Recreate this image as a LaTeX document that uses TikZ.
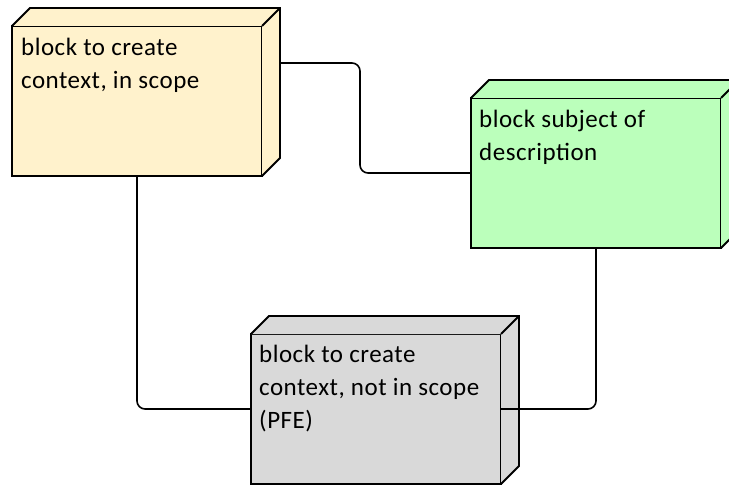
\documentclass[tikz,border=0pt]{standalone}
\usepackage{fontspec}
\setmainfont{Carlito}[LetterSpace=2]
\definecolor{creamfill}{HTML}{FFF2CC}
\definecolor{greenfill}{HTML}{BBFFBB}
\definecolor{grayfill}{HTML}{D9D9D9}
\begin{document}
\begin{tikzpicture}[x=1pt,y=-1pt,
  frontface/.style={draw, line width=1.9pt, rectangle, inner sep=0pt, outer sep=0pt,
    minimum width=250pt, minimum height=150pt, anchor=north west},
  sideface/.style={draw, line width=1.9pt, line join=miter},
  blocktext/.style={anchor=north west, inner sep=0pt, align=left,
    font=\fontsize{25}{33}\selectfont},
  conn/.style={draw, line width=1.6pt, rounded corners=8pt}]
\useasboundingbox (0,0) rectangle (729,487);
\clip (0,0) rectangle (729,487);

% block 1
\node[frontface, fill=creamfill] (b1) at (12,26) {};
\fill[creamfill] (b1.north west) -- ++(18,-18) -- ++(250,0) -- ++(0,150) -- (b1.south east) -- (b1.north east) -- cycle;
\draw[sideface] (b1.north west) -- ++(18,-18) -- ++(250,0) -- ++(0,150) -- (b1.south east);
\draw[sideface] (b1.north east) -- ++(18,-18);
\node[blocktext] (t1) at ([shift={(9,12)}]b1.north west) {block to create\\context, in scope};

% block 2
\node[frontface, fill=greenfill] (b2) at (471,98) {};
\fill[greenfill] (b2.north west) -- ++(18,-18) -- ++(250,0) -- ++(0,150) -- (b2.south east) -- (b2.north east) -- cycle;
\draw[sideface] (b2.north west) -- ++(18,-18) -- ++(250,0) -- ++(0,150) -- (b2.south east);
\draw[sideface] (b2.north east) -- ++(18,-18);
\node[blocktext] (t2) at ([shift={(8,12)}]b2.north west) {block subject of\\description};

% block 3
\node[frontface, fill=grayfill] (b3) at (251,334) {};
\fill[grayfill] (b3.north west) -- ++(18,-18) -- ++(250,0) -- ++(0,150) -- (b3.south east) -- (b3.north east) -- cycle;
\draw[sideface] (b3.north west) -- ++(18,-18) -- ++(250,0) -- ++(0,150) -- (b3.south east);
\draw[sideface] (b3.north east) -- ++(18,-18);
\node[blocktext] (t3) at ([shift={(8,11)}]b3.north west) {block to create\\context, not in scope\\(PFE)};

% connectors
\coordinate (c1) at ([shift={(18,37)}]b1.north east);
\draw[conn] (c1) -- (360,63) |- (b2.west);
\draw[conn] (b1.south) |- (b3.west);
\draw[conn] (b2.south) |- (b3.east);
\end{tikzpicture}
\end{document}
